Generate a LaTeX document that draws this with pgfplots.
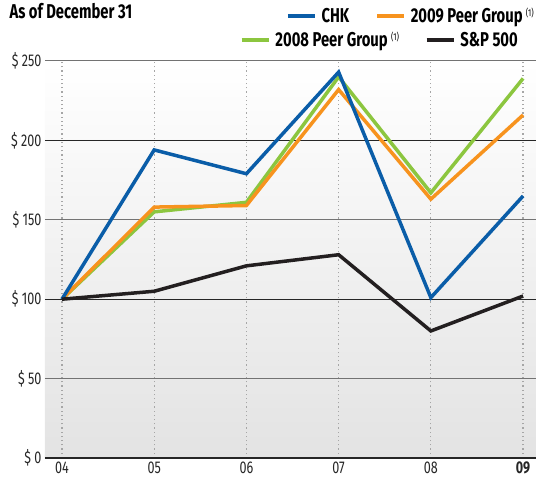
\documentclass[border=0pt]{standalone}
\usepackage{fontspec}
\setmainfont{Fira Sans}[FakeStretch=0.74]
\usepackage{pgfplots}
\pgfplotsset{compat=1.18}
\usetikzlibrary{calc}

\definecolor{chk}{HTML}{0A5DA8}
\definecolor{peer09}{HTML}{F7931E}
\definecolor{peer08}{HTML}{8CC63F}
\definecolor{spx}{HTML}{231F20}

\newcommand{\fn}{\,\raisebox{6pt}{\mdseries\fontsize{10}{10}\selectfont(1)}}

\pgfplotsset{
  legendrow/.style={
    legend columns=-1,
    legend style={draw=none, fill=none, inner sep=0pt,
      font=\bfseries\fontsize{20}{20}\selectfont,
      /tikz/every odd column/.append style={column sep=3pt},
      /tikz/every even column/.append style={column sep=24pt}},
    legend image code/.code={\draw[line width=3.5pt] (0pt,0pt) -- (27pt,0pt);},
  },
}

\begin{document}
\begin{tikzpicture}
\begin{axis}[
  name=main,
  scale only axis, width=491pt, height=397pt,
  xmin=-0.184, xmax=5.14, ymin=0, ymax=250,
  axis x line=bottom, axis y line=left,
  x axis line style={-, line width=2pt, black!85},
  y axis line style={draw=none},
  axis background/.style={top color=white, bottom color=black!11},
  major tick length=0pt,
  xtick={0,...,5},
  xticklabels={04,05,06,07,08,\textbf{09}},
  ytick={50,150,250},
  yticklabels={\$ 50,\$ 150,\$ 250},
  extra y ticks={0,100,200},
  extra y tick labels={\$ 0,\$ 100,\$ 200},
  extra y tick style={major grid style={black!85, line width=1pt}},
  ymajorgrids, xmajorgrids,
  major grid style={black!55, line width=1pt},
  x grid style={black!35, line width=1.2pt, dash pattern=on 1.2pt off 3pt},
  ticklabel style={text=black!85, font=\fontsize{17}{17}\selectfont},
  legendrow,
  legend style={at={(1,1)}, anchor=south east, yshift=35pt},
  title={As of December 31},
  title style={at={(0,1)}, anchor=base west, xshift=-39pt, yshift=36pt,
    font=\bfseries\fontsize{20}{20}\selectfont},
]
\addlegendimage{chk}
\addlegendentry{CHK}
\addlegendimage{peer09}
\addlegendentry{2009 Peer Group\fn}

\addplot[peer08, line width=3.5pt, forget plot] coordinates {
  (0,100) (1,155) (2,161) (3,240) (4,167) (5,239)};
\addplot[peer09, line width=3.5pt, forget plot] coordinates {
  (0,100) (1,158) (2,159) (3,232) (4,163) (5,216)};
\addplot[chk, line width=3.5pt, forget plot] coordinates {
  (0,100) (1,194) (2,179) (3,243) (4,101) (5,165)};
\addplot[spx, line width=3.5pt, forget plot] coordinates {
  (0,100) (1,105) (2,121) (3,128) (4,80) (5,102)};
\end{axis}

\begin{axis}[
  scale only axis, width=491pt, height=397pt,
  xmin=0, xmax=1, ymin=0, ymax=1,
  hide axis,
  legendrow,
  legend style={at={(1,1)}, anchor=south east, yshift=11pt, xshift=-16pt},
]
\addlegendimage{peer08}
\addlegendentry{2008 Peer Group\fn}
\addlegendimage{spx}
\addlegendentry{S\&P 500}
\end{axis}

\pgfresetboundingbox
\useasboundingbox ($(main.south west)+(-45pt,-19pt)$) rectangle ($(main.north east)+(0pt,61pt)$);
\end{tikzpicture}
\end{document}
